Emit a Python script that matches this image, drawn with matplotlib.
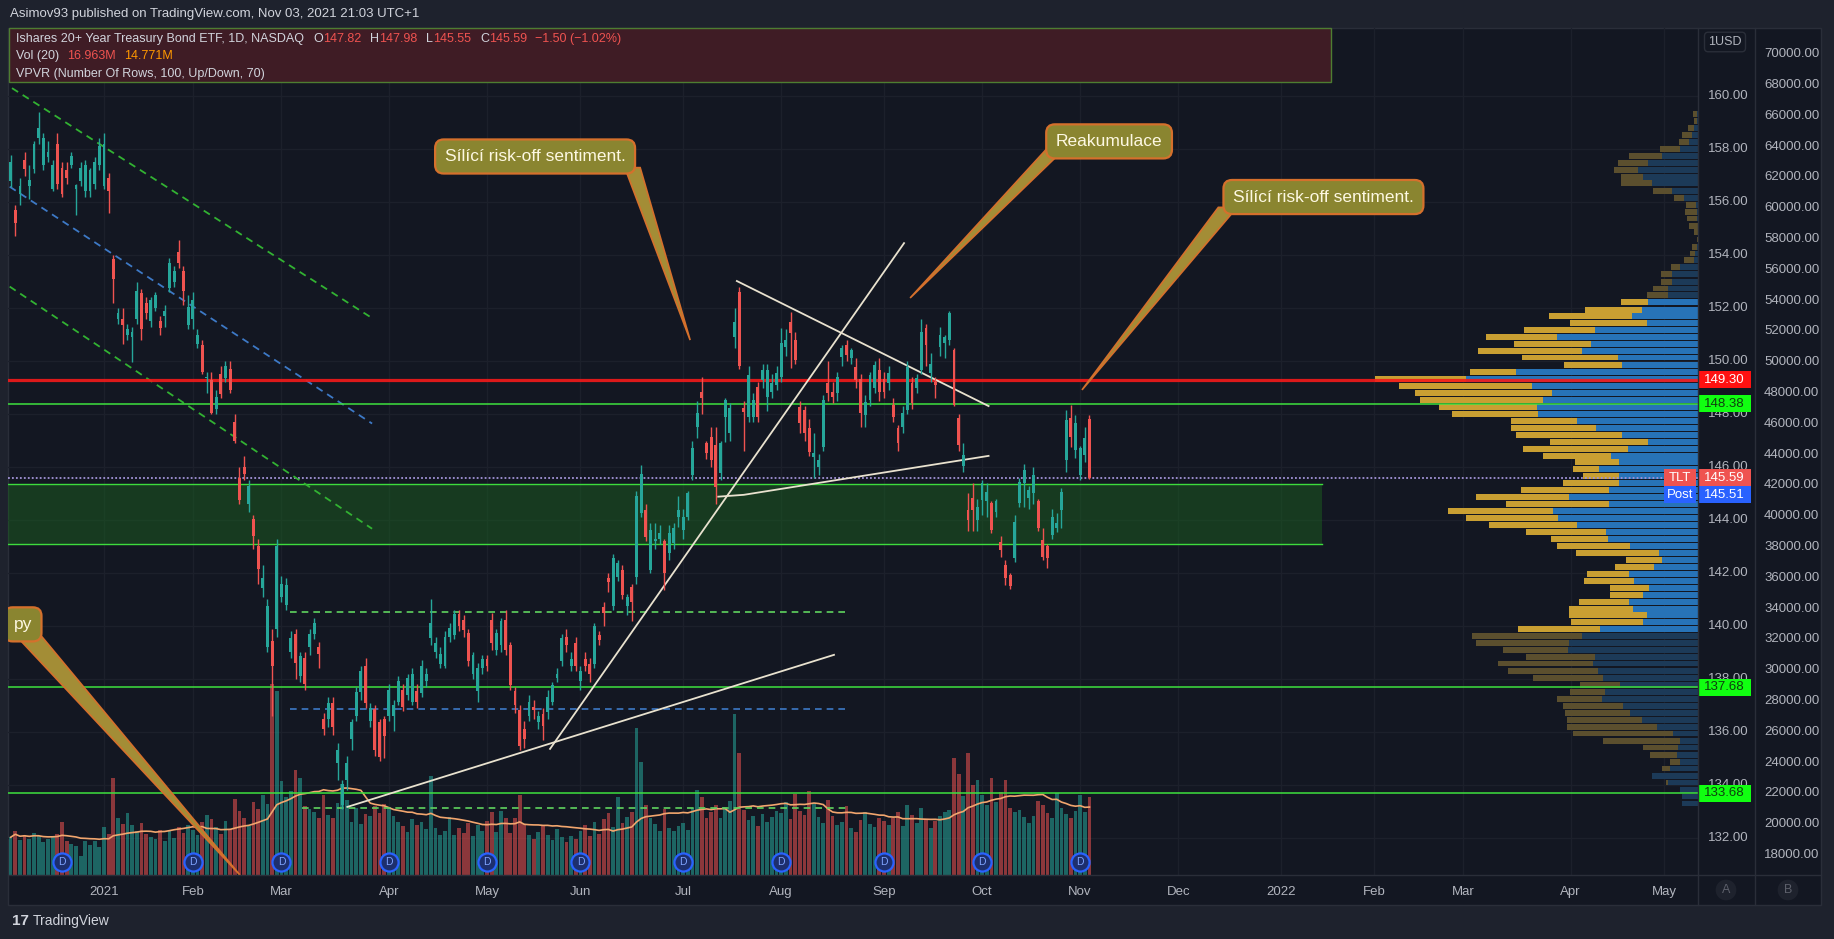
import numpy as np
import pandas as pd
import matplotlib
matplotlib.use("Agg")
import matplotlib.pyplot as plt
import matplotlib.transforms as mtransforms
from matplotlib.patches import Rectangle, Polygon
from matplotlib.lines import Line2D

plt.rcParams['font.family'] = ['Liberation Sans', 'DejaVu Sans']

# ---------------------------------------------------------------
# data (TLT daily, 2020-12-03 .. 2021-11-03)
opens = [
    # Dec 2020
    156.8, 155.7, 156.3, 157.6, 156.6, 157.25, 158.4, 157.4, 157.7, 156.5,
    158.2, 157.3, 157.2, 157.4, 156.5, 156.8, 156.4, 156.4, 156.7, 157.4,
    # Jan
    156.6, 156.9, 153.85, 151.6, 151.6, 151.0, 150.9, 151.6, 152.55, 152.2,
    151.5, 152.0, 151.5, 151.7, 152.75, 153.0, 154.1, 153.4, 151.35,
    # Feb
    151.6, 150.65, 150.6, 149.35, 149.3, 148.2, 149.5, 149.35, 149.7, 147.7,
    145.6, 146.0, 144.6, 144.05, 143.0, 141.45, 139.2, 139.45, 139.9,
    # Mar
    141.1, 140.8, 139.0, 139.7, 138.1, 138.8, 139.2, 139.7, 139.2, 136.5,
    136.5, 137.1, 134.81, 133.26, 134.17, 135.72, 136.6, 137.5, 138.5, 136.4,
    136.88, 136.36, 136.49,
    # Apr
    136.62, 136.62, 137.14, 137.59, 137.4, 137.14, 137.53, 137.46, 137.92, 139.53,
    139.02, 138.56, 138.5, 139.6, 139.66, 140.44, 140.24, 139.73, 138.17, 137.53,
    138.43,
    # May
    138.76, 140.24, 139.08, 139.27, 140.24, 139.27, 137.53, 136.82, 136.1, 136.62,
    136.95, 136.36, 136.69, 136.75, 137.14, 138.05, 138.69, 139.6, 138.5, 139.34,
    # Jun
    137.92, 138.76, 138.56, 138.56, 139.66, 140.7, 141.8, 140.76, 141.86, 142.12,
    140.76, 141.47, 141.86, 144.25, 144.38, 142.1, 143.2, 143.3, 143.2, 142.74,
    143.12, 144.13,
    # Jul
    143.62, 144.13, 145.7, 147.52, 148.84, 146.89, 147.14, 146.83, 145.76, 147.9,
    147.27, 150.92, 152.6, 148.21, 147.9, 147.9, 149.03, 149.28, 148.65, 148.84,
    149.1,
    # Aug
    149.41, 150.54, 151.48, 150.8, 148.28, 148.15, 147.46, 146.39, 146.01, 146.76,
    149.16, 148.84, 148.78, 150.16, 150.6, 150.1, 149.78, 149.34, 147.96, 148.53,
    148.97, 149.66,
    # Sep
    149.34, 149.16, 148.34, 147.46, 147.52, 148.15, 149.16, 148.97, 149.66, 151.23,
    149.54, 149.2, 150.54, 150.67, 150.8, 150.42, 147.84, 146.02, 144.38, 144.82,
    144.0,
    # Oct
    144.76, 144.7, 144.63, 144.32, 143.18, 142.3, 141.93, 142.56, 144.63, 145.39,
    144.82, 145.01, 144.7, 143.25, 143.0, 143.44, 143.69, 144.38, 146.27, 147.84,
    146.65,
    # Nov
    145.7, 146.46, 147.82,
]
highs = [
    157.77, 155.9, 156.9, 157.9, 157.4, 158.3, 159.4, 158.6, 158.3, 157.6,
    158.6, 157.5, 157.5, 157.9, 156.7, 157.5, 157.6, 157.3, 157.7, 158.4,
    158.6, 157.1, 154.0, 152.0, 152.0, 151.4, 151.3, 153.0, 152.7, 152.4,
    152.4, 152.6, 151.7, 152.1, 153.9, 153.6, 154.55, 153.6, 152.5,
    152.6, 151.2, 150.8, 149.6, 149.6, 148.9, 149.8, 150.0, 150.0, 148.0,
    146.0, 146.4, 145.5, 144.2, 143.3, 142.3, 141.0, 139.9, 143.3,
    141.9, 141.8, 139.8, 139.9, 139.0, 139.0, 139.9, 140.3, 139.4, 136.7,
    137.3, 137.3, 135.6, 134.2, 135.1, 136.5, 137.7, 138.5, 138.8, 137.1,
    137.0, 136.5, 136.6,
    137.8, 137.2, 138.1, 137.8, 138.2, 138.4, 137.8, 138.7, 138.4, 141.0,
    139.6, 139.2, 139.8, 140.1, 140.6, 140.6, 140.4, 139.9, 139.0, 138.6,
    138.9,
    138.9, 140.5, 139.9, 140.3, 140.6, 139.4, 137.7, 137.0, 136.4, 137.4,
    137.2, 136.8, 136.9, 137.6, 137.9, 138.4, 139.7, 139.9, 139.0, 139.6,
    138.5, 139.0, 138.8, 140.1, 139.8, 140.9, 142.0, 142.7, 142.5, 142.3,
    141.2, 141.6, 145.1, 146.07, 144.6, 143.9, 143.9, 143.8, 143.3, 143.8,
    143.9, 144.9,
    144.4, 145.1, 147.0, 148.5, 149.4, 147.0, 147.5, 147.5, 147.0, 148.59,
    148.4, 152.0, 152.8, 148.5, 149.8, 148.8, 149.2, 149.9, 149.9, 149.5,
    149.8,
    151.23, 151.2, 151.86, 151.1, 148.5, 148.3, 147.8, 147.3, 146.5, 148.7,
    150.0, 149.2, 149.6, 150.6, 150.8, 150.5, 150.1, 149.5, 148.7, 149.6,
    150.0, 150.1,
    149.6, 149.8, 148.6, 147.6, 148.3, 150.0, 149.4, 149.5, 151.6, 151.4,
    150.3, 149.4, 151.3, 151.0, 151.9, 150.5, 148.0, 146.9, 145.0, 145.4,
    144.8,
    145.5, 145.4, 144.7, 144.8, 143.4, 142.5, 142.0, 144.2, 145.6, 146.1,
    145.3, 146.0, 144.8, 143.7, 143.1, 144.4, 144.25, 145.2, 148.15, 148.34,
    147.97,
    146.8, 147.5, 147.98,
]
lows = [
    156.55, 154.73, 155.9, 157.0, 156.1, 157.1, 158.2, 157.2, 157.5, 156.4,
    156.5, 156.2, 156.7, 157.3, 155.5, 156.6, 156.2, 156.2, 156.5, 157.2,
    156.5, 155.6, 152.2, 151.4, 150.65, 150.8, 149.95, 151.4, 150.8, 151.6,
    151.3, 151.9, 151.0, 151.3, 152.6, 152.8, 153.5, 152.1, 151.2,
    151.2, 150.5, 149.5, 148.8, 148.0, 148.0, 148.6, 149.2, 148.8, 146.9,
    144.6, 145.5, 144.3, 142.9, 141.6, 141.1, 139.0, 136.6, 139.6,
    140.9, 140.6, 138.8, 138.0, 137.9, 137.6, 138.9, 139.5, 138.4, 135.9,
    136.2, 135.9, 134.2, 133.1, 133.8, 135.3, 136.4, 137.2, 136.9, 136.2,
    135.1, 134.9, 135.0,
    136.4, 136.04, 137.0, 136.8, 137.2, 137.0, 136.9, 137.3, 137.7, 139.3,
    138.8, 138.4, 138.4, 139.4, 139.5, 139.8, 139.6, 138.5, 138.0, 137.14,
    138.2,
    138.3, 139.1, 138.9, 139.0, 138.9, 137.6, 136.7, 135.3, 135.4, 136.4,
    136.5, 136.1, 135.7, 136.5, 137.0, 137.9, 138.5, 139.0, 138.3, 138.3,
    137.6, 138.3, 137.9, 138.4, 139.3, 140.0, 141.3, 140.6, 141.7, 141.0,
    140.4, 140.2, 141.6, 144.1, 143.2, 142.0, 142.9, 143.1, 141.36, 142.5,
    142.9, 143.75,
    143.3, 144.0, 145.5, 147.1, 148.0, 146.3, 146.0, 144.6, 145.5, 146.96,
    147.0, 150.5, 149.7, 146.6, 147.7, 147.7, 147.7, 149.0, 148.1, 148.6,
    148.9,
    149.2, 150.2, 149.72, 149.9, 147.3, 147.0, 146.4, 145.6, 145.7, 146.6,
    148.5, 148.4, 148.5, 149.8, 150.0, 149.9, 149.0, 147.5, 147.5, 148.3,
    148.8, 148.5,
    148.6, 148.9, 147.7, 146.6, 147.3, 148.0, 148.2, 148.8, 149.5, 149.8,
    149.2, 148.6, 150.2, 150.1, 150.6, 148.3, 146.6, 145.8, 143.6, 143.6,
    143.6,
    144.2, 144.1, 143.5, 144.1, 142.6, 141.55, 141.4, 142.4, 144.5, 144.5,
    144.4, 144.6, 143.6, 142.5, 142.2, 143.3, 143.56, 143.7, 145.83, 146.77,
    146.33,
    145.5, 146.2, 145.55,
]
closes = [
    157.5, 155.2, 156.6, 157.25, 156.85, 158.2, 158.8, 158.4, 157.9, 157.4,
    156.7, 156.3, 156.9, 157.75, 156.65, 157.3, 157.4, 157.2, 157.5, 158.1,
    158.2, 156.4, 153.1, 151.8, 151.35, 151.2, 151.1, 152.65, 151.2, 151.8,
    152.3, 152.5, 151.25, 151.9, 153.7, 153.4, 153.7, 152.65, 152.05,
    152.3, 151.0, 149.6, 149.4, 148.05, 148.65, 148.75, 149.8, 148.9, 147.0,
    144.75, 145.75, 145.3, 143.4, 142.15, 141.8, 140.75, 138.5, 143.0,
    141.6, 141.55, 139.55, 138.6, 138.85, 137.8, 139.7, 140.1, 138.95, 136.1,
    137.1, 136.2, 135.33, 134.03, 134.81, 136.36, 137.5, 138.3, 137.1, 136.9,
    135.33, 135.07, 135.85,
    137.59, 137.01, 137.92, 136.95, 138.05, 138.17, 137.14, 138.5, 138.17, 140.12,
    139.34, 138.95, 139.6, 139.92, 140.44, 139.99, 139.86, 138.69, 138.89, 138.43,
    138.76,
    138.5, 139.34, 139.73, 140.18, 139.08, 137.79, 137.01, 135.46, 135.72, 137.14,
    136.82, 136.62, 136.23, 137.33, 137.79, 138.17, 139.53, 139.27, 138.76, 138.5,
    138.3, 138.5, 138.17, 139.99, 139.47, 140.5, 141.67, 142.57, 142.38, 141.15,
    141.09, 140.89, 144.9, 145.74, 143.35, 143.62, 143.3, 143.5, 141.99, 143.5,
    143.68, 144.38,
    144.13, 145.0, 146.7, 148.02, 148.59, 146.51, 146.26, 145.26, 146.89, 148.53,
    148.21, 151.48, 149.8, 148.09, 149.47, 148.53, 147.9, 149.66, 149.66, 149.16,
    149.53,
    150.67, 150.8, 151.04, 150.04, 147.65, 147.27, 146.58, 146.51, 146.26, 148.53,
    148.78, 148.65, 149.41, 150.48, 150.23, 150.41, 149.28, 148.02, 148.46, 149.47,
    149.85, 148.84,
    148.84, 149.53, 147.9, 146.89, 148.03, 149.79, 148.4, 149.35, 151.11, 150.6,
    149.9, 149.1, 150.98, 150.92, 151.8, 148.34, 146.83, 146.46, 144.0, 144.38,
    144.5,
    145.39, 145.07, 143.62, 144.7, 142.87, 141.8, 141.49, 143.94, 145.45, 145.89,
    145.14, 145.7, 143.69, 142.62, 142.56, 144.13, 143.88, 145.07, 147.78, 147.15,
    147.65,
    146.71, 147.09, 145.59,
]
# volume, millions of shares
volumes = [
    8.2, 9.5, 7.6, 8.8, 7.9, 9.2, 8.5, 7.1, 7.8, 8.4, 9.0, 11.5, 7.5, 6.8, 6.2, 4.1, 7.3, 6.6, 7.4, 6.1,
    10.5, 9.0, 21.0, 12.5, 11.0, 13.5, 10.8, 9.6, 11.2, 9.0, 8.3, 7.9, 9.8, 7.5, 9.7, 8.1, 10.4, 9.2, 10.9,
    9.8, 8.7, 11.6, 13.0, 12.2, 10.5, 8.9, 11.7, 10.1, 16.6, 14.0, 12.5, 10.6, 15.8, 14.4, 17.3, 15.5, 41.5, 40.0,
    20.5, 17.0, 18.2, 22.8, 21.0, 15.0, 14.3, 13.6, 12.5, 17.5, 13.0, 12.4, 15.7, 19.8, 16.2, 11.5, 14.6, 11.0,
    13.2, 12.8, 14.9, 13.5, 15.4,
    14.8, 12.9, 11.5, 10.6, 9.4, 12.1, 10.8, 11.6, 9.9, 21.5, 10.3, 8.8, 9.5, 12.7, 8.6, 10.2, 9.1, 11.3, 8.4,
    10.8, 9.6,
    11.8, 13.6, 9.4, 14.0, 12.3, 9.1, 12.4, 17.5, 11.0, 8.6, 7.9, 9.3, 10.7, 8.8, 7.6, 9.9, 8.3, 7.2, 8.5, 7.8,
    9.6, 10.8, 8.4, 11.5, 9.0, 12.2, 13.5, 10.4, 17.0, 11.2, 12.6, 13.8, 32.0, 24.5, 15.2, 12.4, 11.0, 9.6,
    14.3, 10.2, 9.5, 10.7,
    11.2, 9.8, 14.6, 18.4, 16.9, 12.5, 13.7, 15.2, 12.3, 14.8, 16.0, 35.0, 26.5, 14.1, 11.9, 12.8, 10.6, 13.3,
    11.5, 12.6, 14.0,
    13.4, 15.8, 12.2, 17.6, 14.0, 13.1, 18.2, 15.5, 12.7, 11.4, 16.3, 12.9, 10.8, 11.6, 14.9, 10.2, 9.4, 12.0,
    13.6, 11.1, 10.5, 12.4,
    11.8, 10.9, 12.5, 13.8, 10.6, 15.2, 13.0, 11.4, 14.6, 12.1, 10.3, 11.8, 12.9, 13.6, 14.2, 25.5, 22.0, 17.2,
    26.5, 19.5, 20.6,
    17.5, 15.2, 21.0, 15.8, 18.0, 20.6, 14.6, 13.8, 14.2, 12.6, 11.4, 12.8, 16.0, 15.2, 13.5, 12.4, 17.8, 14.6,
    13.2, 12.5, 13.9,
    17.5, 13.8, 16.963,
]
dividend_dates = ["2020-12-18", "2021-02-01", "2021-03-01", "2021-04-01", "2021-05-03", "2021-06-01",
                  "2021-07-01", "2021-08-02", "2021-09-01", "2021-10-01", "2021-11-01"]
market_holidays = ["2020-12-25", "2021-01-01", "2021-01-18", "2021-02-15", "2021-04-02", "2021-05-31",
                   "2021-07-05", "2021-09-06", "2021-11-25", "2021-12-24", "2022-01-17", "2022-02-21",
                   "2022-04-15", "2022-05-30"]

# volume profile (VPVR) rows: price, up volume, down volume (relative)
vp_price = [159.32, 159.07, 158.78, 158.53, 158.28, 157.99, 157.74, 157.46, 157.21, 156.96,
            156.71, 156.43, 156.15, 155.89, 155.63, 155.38, 155.10, 154.86, 154.59, 154.31,
            154.06, 153.81, 153.54, 153.28, 152.99, 152.74, 152.49, 152.24, 151.94, 151.69,
            151.43, 151.17, 150.92, 150.65, 150.39, 150.13, 149.86, 149.60, 149.33, 149.06,
            148.80, 148.54, 148.28, 148.01, 147.75, 147.48, 147.22, 146.95, 146.69, 146.43,
            146.18, 145.91, 145.66, 145.40, 145.13, 144.87, 144.60, 144.34, 144.08, 143.81,
            143.55, 143.28, 143.02, 142.75, 142.49, 142.23, 141.96, 141.70, 141.43, 141.17,
            140.91, 140.64, 140.42, 140.15, 139.89, 139.62, 139.36, 139.09, 138.84, 138.58,
            138.31, 138.05, 137.78, 137.52, 137.25, 136.99, 136.73, 136.46, 136.20, 135.94,
            135.67, 135.41, 135.14, 134.88, 134.62, 134.35, 134.09, 133.82, 133.56, 133.30]
vp_up = [1.3, 0.7, 4.0, 6.3, 8.7, 18.0, 36.3, 49.7, 59.7, 54.7,
         46.3, 26.3, 14.0, 2.3, 1.3, 0.7, 0.0, 0.0, 0.0, 1.3,
         3.0, 4.0, 18.0, 26.3, 26.3, 29.7, 29.7, 49.7, 56.3, 65.7,
         51.3, 103.0, 141.3, 107.0, 116.3, 79.7, 76.3, 182.0, 232.0, 166.3,
         146.3, 154.7, 161.3, 160.3, 121.3, 102.0, 76.3, 49.7, 69.7, 87.3,
         79.3, 99.3, 79.3, 78.7, 89.3, 129.0, 89.3, 144.7, 140.3, 121.3,
         92.3, 90.3, 68.0, 39.3, 36.3, 44.0, 69.3, 64.0, 49.3, 55.3,
         69.3, 65.3, 51.3, 55.3, 98.0, 116.3, 128.7, 129.7, 103.0, 105.0,
         100.0, 95.0, 78.0, 93.0, 96.0, 75.0, 68.0, 56.0, 41.0, 25.0,
         18.0, 20.0, 21.0, 18.0, 28.0, 46.0, 30.0, 18.0, 16.0, 16.0]
vp_down = [4.0, 3.3, 5.7, 10.0, 10.3, 20.0, 32.3, 30.7, 24.3, 22.7,
           31.0, 19.0, 10.0, 9.7, 11.7, 10.6, 8.7, 4.0, 1.0, 5.0,
           5.0, 10.0, 9.3, 10.7, 11.0, 15.0, 21.6, 27.6, 56.7, 83.3,
           76.7, 71.0, 71.0, 77.0, 104.0, 96.6, 57.7, 46.0, 91.0, 132.7,
           136.7, 123.3, 97.7, 86.0, 66.0, 85.3, 105.7, 98.3, 105.6, 68.0,
           43.7, 26.0, 36.0, 56.0, 88.0, 93.0, 102.7, 105.3, 91.7, 87.4,
           79.7, 57.0, 73.3, 82.7, 35.7, 39.0, 42.0, 50.0, 38.7, 32.7,
           50.0, 64.0, 78.0, 72.0, 82.3, 109.7, 93.3, 65.6, 69.3, 95.0,
           90.0, 70.0, 40.0, 35.0, 45.0, 60.0, 65.0, 75.0, 90.0, 100.0,
           77.0, 35.0, 27.0, 10.0, 8.0, 0.0, 2.0, 0.0, 0.0, 0.0]
va_low, va_high = 139.75, 152.35

price_ticks = list(range(132, 161, 2))
vol_scale_ticks = list(range(18000, 70001, 2000))

# ---------------------------------------------------------------
BG = '#131722'
OUTER = '#1e222d'
BORDER = '#2a2e39'
TXT = '#b2b5be'
UP = '#26a69a'
DOWN = '#ef5350'

W, H = 1834, 939
fig = plt.figure(figsize=(W / 100, H / 100), dpi=100, facecolor=OUTER)


def fx(px):
    return px / W


def fy(py):
    return 1 - py / H


# chart frame
fig.patches.append(Rectangle((fx(8), fy(905)), fx(1821 - 8), (905 - 28) / H, transform=fig.transFigure,
                             fc=BG, ec=BORDER, lw=1, zorder=-5))
for x0 in (1698, 1755):
    fig.lines.append(Line2D([fx(x0), fx(x0)], [fy(905), fy(28)], transform=fig.transFigure, color=BORDER, lw=1))
fig.lines.append(Line2D([fx(8), fx(1821)], [fy(875), fy(875)], transform=fig.transFigure, color=BORDER, lw=1))

ax = fig.add_axes([fx(8), fy(875), fx(1698 - 8), (875 - 28) / H])
ax.set_facecolor('none')
for s in ax.spines.values():
    s.set_visible(False)

n = len(closes)
bday = pd.offsets.CustomBusinessDay(holidays=market_holidays)
dates = pd.date_range("2020-12-03", "2022-07-29", freq=bday)
x = np.arange(n)
o = np.array(opens)
h = np.array(highs)
l = np.array(lows)
c = np.array(closes)
v = np.array(volumes)

xl, xr = -0.56, 361.3
yb, yt = 130.6, 162.57
px_per_bar = (1698 - 8) / (xr - xl)

# grid + month ticks
month_idx, month_lbl = [], []
for i in range(1, len(dates)):
    if dates[i].month != dates[i - 1].month and i < xr:
        month_idx.append(i)
        month_lbl.append(str(dates[i].year) if dates[i].month == 1 else dates[i].strftime('%b'))
for i in month_idx:
    ax.axvline(i, color='#1c202b', lw=0.9, zorder=0)
for p in price_ticks:
    ax.axhline(p, color='#1c202b', lw=0.9, zorder=0)

# volume pane (own scale, bottom of the chart)
vol_tr = mtransforms.blended_transform_factory(ax.transData,
                                               mtransforms.Affine2D().scale(1, 4.6 / 847) + ax.transAxes)
up = c >= o
vcol = np.where(up, UP, DOWN)
ax.bar(x, v, width=0.8, color=vcol, alpha=0.55, transform=vol_tr, zorder=1, lw=0)
vma = pd.Series(v).rolling(20, min_periods=1).mean()
ax.plot(x, vma, color='#f2a66e', lw=1.2, transform=vol_tr, zorder=2)

# volume profile on the right
vp_p = np.array(vp_price)
vp_u = np.array(vp_up) / px_per_bar
vp_d = np.array(vp_down) / px_per_bar
in_va = (vp_p >= va_low) & (vp_p <= va_high)
ax.barh(vp_p, vp_u, left=xr - vp_u, height=0.22, color=np.where(in_va, '#2773b8', '#1c3a58'), zorder=1)
ax.barh(vp_p, vp_d, left=xr - vp_u - vp_d, height=0.22, color=np.where(in_va, '#c99f32', '#5b4f2e'), zorder=1)

# support / resistance drawings
ax.add_patch(Rectangle((xl, 143.09), 280.8 - xl, 145.35 - 143.09, fc='#1b5e20', alpha=0.5, ec='none', zorder=1))
ax.plot([xl, 280.8], [145.35, 145.35], color='#3ddc3d', lw=1, zorder=3)
ax.plot([xl, 280.8], [143.09, 143.09], color='#3ddc3d', lw=1, zorder=3)
ax.axhline(149.30, color='#f41a1a', lw=2.3, alpha=0.9, zorder=4)
for lvl in (148.38, 137.68, 133.68):
    ax.axhline(lvl, color='#3ee03e', lw=1.1, zorder=4)
ax.axhline(145.59, color='#a394d8', lw=1.3, ls=(0, (1, 1.2)), zorder=3)

dash = (0, (4, 3))
ax.plot([0.3, 77.4], [160.3, 151.62], color='#32b232', lw=1.3, ls=dash, zorder=3)
ax.plot([-0.2, 77.4], [152.81, 143.67], color='#32b232', lw=1.3, ls=dash, zorder=3)
ax.plot([-0.2, 77.4], [156.58, 147.64], color='#3d79c6', lw=1.3, ls=dash, zorder=3)
ax.plot([59.8, 178.7], [140.53, 140.53], color='#5fd35f', lw=1.2, ls=dash, zorder=3)
ax.plot([59.8, 178.7], [136.88, 136.88], color='#3d79c6', lw=1.2, ls=dash, zorder=3)
ax.plot([62.4, 179.0], [133.14, 133.14], color='#5fd35f', lw=1.2, ls=dash, zorder=3)

cream = '#e9e2cf'
ax.plot([72.1, 176.3], [133.17, 138.91], color=cream, lw=1.3, zorder=5)
ax.plot([115.5, 191.3], [135.36, 154.45], color=cream, lw=1.3, zorder=5)
ax.plot([155.5, 209.4], [153.02, 148.30], color=cream, lw=1.3, zorder=5)
ax.plot([151.5, 157.0, 209.4], [144.88, 144.95, 146.42], color=cream, lw=1.3, zorder=5)

# candles
ccol = np.where(up, UP, DOWN)
ax.vlines(x, l, h, color=ccol, lw=1, zorder=5)
ax.bar(x, np.maximum(np.abs(c - o), 0.04), bottom=np.minimum(o, c), width=0.62, color=ccol, zorder=5, lw=0)

# dividend markers
div_x = [dates.get_loc(pd.Timestamp(d)) for d in dividend_dates]
dtr = mtransforms.blended_transform_factory(ax.transData, ax.transAxes)
ax.scatter(div_x, [0.0153] * len(div_x), s=170, transform=dtr, fc='#1d2f6e', ec='#2962ff', lw=1.6, zorder=6,
           clip_on=False)
for dx in div_x:
    ax.text(dx, 0.0153, 'D', transform=dtr, ha='center', va='center', color='#7fa4ff', fontsize=7.5, zorder=7)


# callouts
def callout(text, cx, cy, base, tip, fs=12.5):
    ax.add_patch(Polygon([base[0], base[1], tip], closed=True, fc='#a38d36', ec='#d5702c', lw=1.2, zorder=8))
    ax.text(cx, cy, text, ha='center', va='center', color='#fdf8e2', fontsize=fs, zorder=9, clip_on=True,
            bbox=dict(boxstyle='round,pad=0.55,rounding_size=0.5', fc='#8a8530', ec='#d5702c', lw=1.6))


callout("Sílící risk-off sentiment.", 112.3, 157.72, [(131.5, 157.3), (134.8, 157.3)], (145.5, 150.79))
callout("Reakumulace", 235.2, 158.29, [(221.8, 158.0), (225.6, 158.0)], (192.6, 152.38))
callout("Sílící risk-off sentiment.", 281.1, 156.19, [(258.6, 155.8), (262.6, 155.8)], (229.4, 148.91))
callout("py", 2.6, 140.06, [(0.8, 139.7), (6.2, 139.7)], (49.1, 130.6))

# axes / ticks
ax.set_xlim(xl, xr)
ax.set_ylim(yb, yt)
ax.set_yticks([])
ax.set_xticks(month_idx)
ax.set_xticklabels(month_lbl)
ax.tick_params(axis='x', length=0, colors=TXT, labelsize=9.5, pad=8)

# right price scale
ytr = mtransforms.blended_transform_factory(ax.transAxes, ax.transData)
for p in price_ticks:
    ax.text(1.0 + 10 / 1690, p, f"{p:.2f}", transform=ytr, ha='left', va='center', color=TXT,
            fontsize=9.5, clip_on=False, zorder=2)

# second scale (B)
for t in vol_scale_ticks:
    fig.text(fx(1764), fy(54.3 + (70000 - t) * 800.7 / 52000), f"{t:.2f}", color=TXT, fontsize=9.5,
             ha='left', va='center')

# price tags on the right scale
tag_w = 53 / 1690
tag_h = 17 / 26.5


def tag(price, label, fc, tc):
    ax.add_patch(Rectangle((1.0, price - tag_h / 2), tag_w, tag_h, transform=ytr, fc=fc, ec='none',
                           clip_on=False, zorder=10))
    ax.text(1.0 + tag_w / 2, price, label, transform=ytr, ha='center', va='center', color=tc,
            fontsize=9.5, zorder=11, clip_on=False)


tag(149.30, "149.30", '#ff1111', 'white')
tag(148.38, "148.38", '#11ff11', '#0f3d0f')
tag(137.68, "137.68", '#11ff11', '#0f3d0f')
tag(133.68, "133.68", '#11ff11', '#0f3d0f')
tag(145.59, "145.59", '#ef5350', 'white')
tag(145.59 - tag_h, "145.51", '#2962ff', 'white')
side_w = 32 / 1690
for py, lab, fc in ((145.59, "TLT", '#ef5350'), (145.59 - tag_h, "Post", '#2962ff')):
    ax.add_patch(Rectangle((1.0 - side_w - 0.001, py - tag_h / 2), side_w, tag_h, transform=ytr, fc=fc,
                           ec='none', clip_on=False, zorder=10))
    ax.text(1.0 - side_w / 2 - 0.001, py, lab, transform=ytr, ha='center', va='center', color='white',
            fontsize=9.5, zorder=11)

# header, legend and footer
fig.text(fx(10), fy(14), "Asimov93 published on TradingView.com, Nov 03, 2021 21:03 UTC+1", color='#d1d4dc',
         fontsize=9.5, va='center')
ax.add_patch(Rectangle((fx(9), fy(82)), fx(1331 - 9), (82 - 28) / H, transform=fig.transFigure,
                       fc='#3f1c25', ec='#4e7d31', lw=1, zorder=6, clip_on=False))

# legend lines: pieces laid out one after another (gap in px before each piece)
LG = '#d1d4dc'
legend_lines = [
    (39, [("Ishares 20+ Year Treasury Bond ETF, 1D, NASDAQ", LG, 0), ("O", LG, 9), ("147.82", DOWN, 0),
          ("H", LG, 9), ("147.98", DOWN, 0), ("L", LG, 9), ("145.55", DOWN, 0),
          ("C", LG, 9), ("145.59", DOWN, 0), ("\u22121.50 (\u22121.02%)", DOWN, 8)]),
    (56, [("Vol (20)", LG, 0), ("16.963M", DOWN, 8), ("14.771M", '#ff9800', 8)]),
    (74, [("VPVR (Number Of Rows, 100, Up/Down, 70)", LG, 0)]),
]
renderer = fig.canvas.get_renderer()
for py, pieces in legend_lines:
    cur = 16
    for s, col, gap in pieces:
        cur += gap
        t = fig.text(fx(cur), fy(py), s, color=col, fontsize=9, va='center', zorder=7)
        cur = t.get_window_extent(renderer).x1

fig.text(fx(1725), fy(42), "1USD", color=TXT, fontsize=9, ha='center', va='center',
         bbox=dict(boxstyle='round,pad=0.3', fc=BG, ec=BORDER, lw=1))
for bx, lab in ((1726, 'A'), (1788, 'B')):
    fig.text(fx(bx), fy(890), lab, color='#5d606b', fontsize=9, ha='center', va='center',
             bbox=dict(boxstyle='circle,pad=0.35', fc=OUTER, ec='none'))

fig.text(fx(12), fy(921), "17", color='#d1d4dc', fontsize=11, fontweight='bold', va='center')
fig.text(fx(33), fy(921), "TradingView", color='#d1d4dc', fontsize=10, va='center')

fig.savefig("out.png", dpi=100, facecolor=OUTER)
